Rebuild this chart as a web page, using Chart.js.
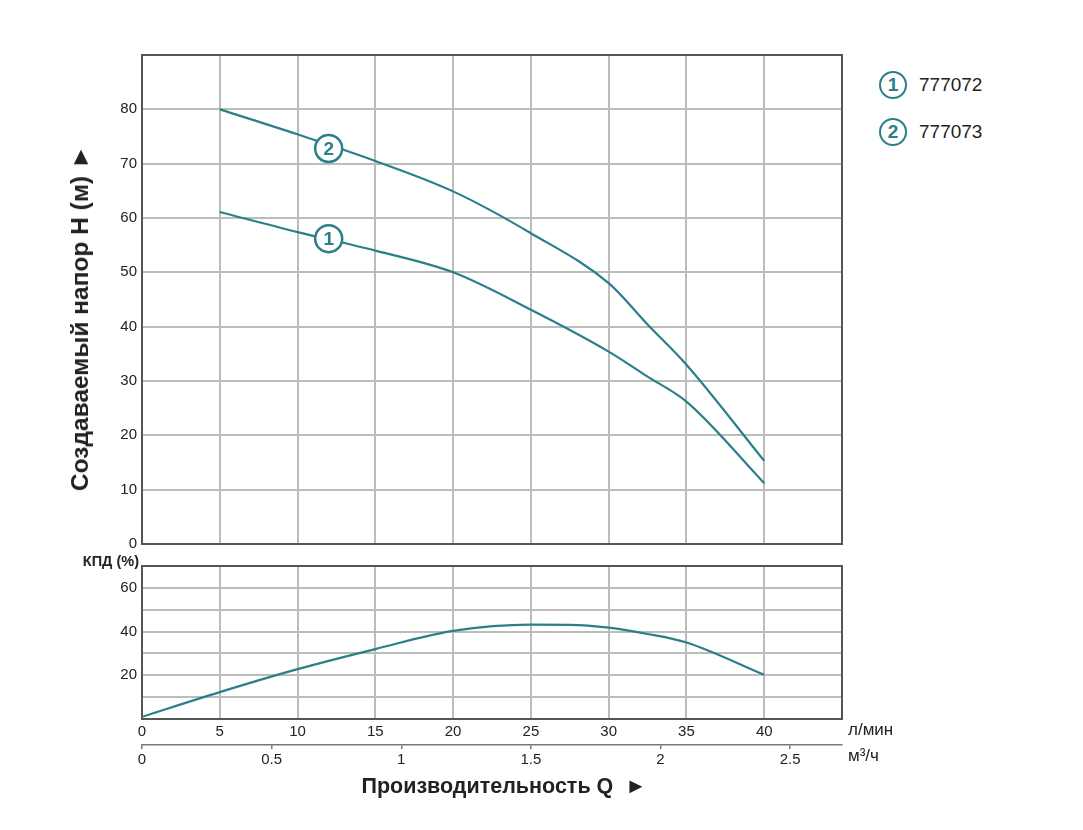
<!DOCTYPE html>
<html lang="ru">
<head>
<meta charset="utf-8">
<title>Напорная характеристика 777072 / 777073</title>
<script src="https://cdn.jsdelivr.net/npm/chart.js@4.4.1/dist/chart.umd.min.js"></script>
<style>
  html, body { margin: 0; padding: 0; background: #fff; }
  #page { position: relative; width: 1083px; height: 830px; overflow: hidden;
          font-family: "Liberation Sans", Arial, sans-serif; color: #222; }
  .abs { position: absolute; }
  #head-box { left: 0; top: 0; width: 870px; height: 560px; }
  #eff-box  { left: 0; top: 548px; width: 870px; height: 232px; }
  #y-title { left: 80px; top: 318px; transform: translate(-50%, -50%) rotate(-90deg);
             font-weight: bold; font-size: 24.5px; white-space: nowrap; }
  #x-title { left: 504px; top: 786px; transform: translate(-50%, -50%);
             font-weight: bold; font-size: 21.5px; white-space: nowrap; }
  #kpd { right: calc(1083px - 139px); top: 561px; transform: translateY(-50%);
         font-weight: bold; font-size: 14.5px; white-space: nowrap; }
  .unit { left: 848px; font-size: 17px; transform: translateY(-50%); white-space: nowrap; }
  .leg { left: 879px; height: 28px; display: flex; align-items: center; transform: translateY(-50%); }
  .leg .num { box-sizing: border-box; width: 28px; height: 28px; border: 2.5px solid #2a7f8a; border-radius: 50%;
              color: #2a7f8a; font-weight: bold; font-size: 19px; line-height: 23px; text-align: center; }
  .leg .name { margin-left: 12px; font-size: 19px; }
</style>
</head>
<body>
<div id="page">
  <div id="head-box" class="abs"><canvas id="head-chart"></canvas></div>
  <div id="eff-box" class="abs"><canvas id="eff-chart"></canvas></div>
  <div id="y-title" class="abs">Создаваемый напор H (м) ►</div>
  <div id="x-title" class="abs">Производительность Q&nbsp; ►</div>
  <div id="kpd" class="abs">КПД (%)</div>
  <div class="abs unit" style="top:730px">л/мин</div>
  <div class="abs unit" style="top:756px">м³/ч</div>
  <div id="legend"></div>
</div>
<script>
// Q, л/мин
const flowLmin   = [5, 10, 15, 20, 25, 30, 32.5, 35, 40];
const head777072 = [61.1, 57.4, 54.0, 50.0, 43.1, 35.4, 30.8, 26.2, 11.2];
const head777073 = [80.0, 75.4, 70.5, 64.9, 57.2, 48.0, 40.4, 33.0, 15.3];

// КПД curve
const effFlow    = [0, 5, 10, 15, 20, 25, 27.5, 30, 32.5, 35, 40];
const efficiency = [1.0, 12.3, 22.8, 32.0, 40.3, 43.2, 43.1, 41.8, 38.9, 35.0, 20.2];

// models and the numbered circles placed on the curves
const models       = ['777072', '777073'];
const markerNums   = ['1', '2'];
const markerFlow   = [12, 12];
const markerHead   = [56.2, 72.8];

// axis ticks
const flowTicks    = [0, 5, 10, 15, 20, 25, 30, 35, 40];
const cubicTicks   = [0, 0.5, 1, 1.5, 2, 2.5];
const headTicks    = [0, 10, 20, 30, 40, 50, 60, 70, 80];
const effTicks     = [20, 40, 60];

const TEAL = '#2a7f8a';
const GRID = '#bcbcbc';
const FRAME = '#555';
const tickFont = { family: '"Liberation Sans", Arial, sans-serif', size: 15 };

const pts = (xs, ys) => xs.map((x, i) => ({ x, y: ys[i] }));

// frame around the plot area
const framePlugin = {
  id: 'frame',
  beforeDatasetsDraw(chart) {
    const { ctx, chartArea: a } = chart;
    ctx.save();
    ctx.strokeStyle = FRAME;
    ctx.lineWidth = 2;
    ctx.strokeRect(a.left, a.top, a.right - a.left, a.bottom - a.top);
    ctx.restore();
  }
};

// digits inside the marker circles
const markerDigits = {
  id: 'markerDigits',
  afterDatasetsDraw(chart) {
    const ctx = chart.ctx;
    chart.data.datasets.forEach((ds, di) => {
      if (!ds.digits) return;
      chart.getDatasetMeta(di).data.forEach((p, i) => {
        ctx.save();
        ctx.fillStyle = TEAL;
        ctx.font = 'bold 19px "Liberation Sans", Arial, sans-serif';
        ctx.textAlign = 'center';
        ctx.textBaseline = 'middle';
        ctx.fillText(ds.digits[i], p.x, p.y + 1);
        ctx.restore();
      });
    });
  }
};

const lineDs = (label, data) => ({
  label, data, borderColor: TEAL, borderWidth: 2.2, pointRadius: 0,
  cubicInterpolationMode: 'monotone', fill: false, order: 1
});

new Chart(document.getElementById('head-chart'), {
  type: 'line',
  data: {
    datasets: [
      lineDs(models[0], pts(flowLmin, head777072)),
      lineDs(models[1], pts(flowLmin, head777073)),
      {
        label: 'markers', data: pts(markerFlow, markerHead), digits: markerNums,
        showLine: false, pointRadius: 13.5, pointHoverRadius: 13.5,
        pointBackgroundColor: '#fff', pointBorderColor: TEAL, pointBorderWidth: 2.5, order: 0
      }
    ]
  },
  options: {
    responsive: true, maintainAspectRatio: false, animation: false,
    events: [],
    layout: { padding: { top: 55, right: 28, bottom: 16, left: 0 } },
    plugins: { legend: { display: false }, tooltip: { enabled: false } },
    scales: {
      x: {
        type: 'linear', min: 0, max: 45,
        afterBuildTicks: s => { s.ticks = flowTicks.concat([45]).map(v => ({ value: v })); },
        ticks: { display: false },
        grid: { color: GRID, lineWidth: 2, drawTicks: false },
        border: { display: false },
        afterFit: s => { s.height = 0; }
      },
      y: {
        min: 0, max: 90,
        afterBuildTicks: s => { s.ticks = headTicks.concat([90]).map(v => ({ value: v })); },
        ticks: { color: '#222', font: tickFont, padding: 5,
                 callback: v => headTicks.includes(v) ? v : '' },
        grid: { color: GRID, lineWidth: 2, drawTicks: false },
        border: { display: false },
        afterFit: s => { s.width = 142; }
      }
    }
  },
  plugins: [framePlugin, markerDigits]
});

new Chart(document.getElementById('eff-chart'), {
  type: 'line',
  data: {
    datasets: [lineDs('КПД', pts(effFlow, efficiency))]
  },
  options: {
    responsive: true, maintainAspectRatio: false, animation: false,
    events: [],
    layout: { padding: { top: 18, right: 28, bottom: 3, left: 0 } },
    plugins: { legend: { display: false }, tooltip: { enabled: false } },
    scales: {
      x: {
        type: 'linear', position: 'bottom', min: 0, max: 45, weight: 0,
        afterBuildTicks: s => { s.ticks = flowTicks.concat([45]).map(v => ({ value: v })); },
        ticks: { color: '#222', font: tickFont, padding: 4,
                 callback: v => flowTicks.includes(v) ? v : '' },
        grid: { color: GRID, lineWidth: 2, drawTicks: false },
        border: { display: false },
        afterFit: s => { s.height = 26; }
      },
      x2: {
        type: 'linear', position: 'bottom', min: 0, max: 2.7, weight: 1,
        afterBuildTicks: s => { s.ticks = cubicTicks.map(v => ({ value: v })); },
        ticks: { color: '#222', font: tickFont, padding: 2, callback: v => String(v) },
        grid: { drawOnChartArea: false, drawTicks: true, tickLength: 4, color: '#777', lineWidth: 1.5 },
        border: { display: true, color: '#777', width: 1.5 },
        afterFit: s => { s.height = 32; }
      },
      y: {
        min: 0, max: 70,
        afterBuildTicks: s => { s.ticks = [0, 10, 20, 30, 40, 50, 60, 70].map(v => ({ value: v })); },
        ticks: { color: '#222', font: tickFont, padding: 5,
                 callback: v => effTicks.includes(v) ? v : '' },
        grid: { color: GRID, lineWidth: 2, drawTicks: false },
        border: { display: false },
        afterFit: s => { s.width = 142; }
      }
    }
  },
  plugins: [framePlugin]
});

// legend on the right
const legend = document.getElementById('legend');
models.forEach((m, i) => {
  const row = document.createElement('div');
  row.className = 'abs leg';
  row.style.top = (85 + i * 47) + 'px';
  row.innerHTML = `<div class="num">${markerNums[i]}</div><div class="name">${m}</div>`;
  legend.appendChild(row);
});
</script>
</body>
</html>
